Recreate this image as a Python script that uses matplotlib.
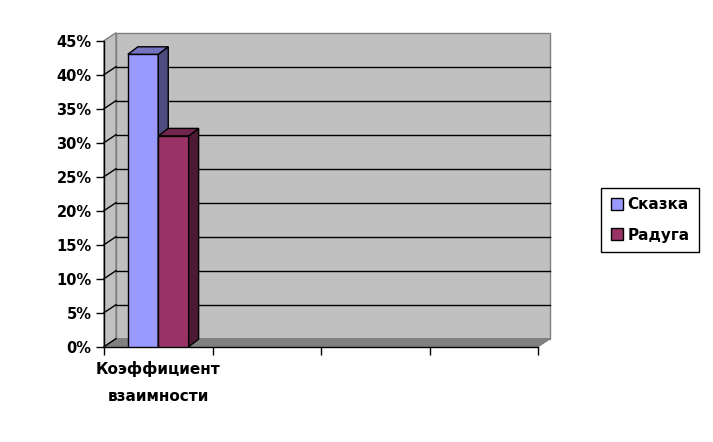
import numpy as np
import matplotlib.pyplot as plt
from matplotlib.patches import Polygon, Patch

# --- data ---
categories = ['Коэффициент\nвзаимности', '', '', '']
series_names = ['Сказка', 'Радуга']
skazka = [0.43, np.nan, np.nan, np.nan]
raduga = [0.31, np.nan, np.nan, np.nan]
y_ticks = [0.0, 0.05, 0.10, 0.15, 0.20, 0.25, 0.30, 0.35, 0.40, 0.45]
y_labels = ['0%', '5%', '10%', '15%', '20%', '25%', '30%', '35%', '40%', '45%']

# front / side / top shades for each series
face_colors = [('#9999FF', '#4D4D80', '#7373BF'),
               ('#993366', '#4D1A33', '#73264D')]

W, H = 713, 442
fig = plt.figure(figsize=(W / 100, H / 100), dpi=100)
ax = fig.add_axes([104 / W, (H - 346.7) / H, 434 / W, 306 / H])
ymax = y_ticks[-1]
ncat = len(categories)
ax.set_xlim(0, ncat)
ax.set_ylim(0, ymax)
ax.set_facecolor('none')

# pixel -> data conversion for the fake 3D depth
ux = 434 / ncat
uy = 306 / ymax
wdx, wdy = 12 / ux, 8 / uy     # wall depth
bdx, bdy = 10 / ux, 7.5 / uy   # bar depth

# --- walls and floor ---
back = Polygon([(wdx, wdy), (ncat + wdx, wdy), (ncat + wdx, ymax + wdy), (wdx, ymax + wdy)],
               fc='#C0C0C0', ec='#808080', lw=1, clip_on=False, zorder=1)
side = Polygon([(0, 0), (wdx, wdy), (wdx, ymax + wdy), (0, ymax)],
               fc='#C0C0C0', ec='#808080', lw=1, clip_on=False, zorder=1)
floor = Polygon([(0, 0), (ncat, 0), (ncat + wdx, wdy), (wdx, wdy)],
                fc='#808080', ec='#808080', lw=1, clip_on=False, zorder=1.2)
for p in (back, side, floor):
    ax.add_patch(p)

for t in y_ticks[1:-1]:
    ax.plot([wdx, ncat + wdx], [t + wdy, t + wdy], color='black', lw=1, clip_on=False, zorder=1.1)
for t in y_ticks[:-1]:
    ax.plot([0, wdx], [t, t + wdy], color='black', lw=1, clip_on=False, zorder=1.3)

# --- bars ---
bw = 0.28
gap = (1 - bw * len(series_names)) / 2
for i, vals in enumerate([skazka, raduga]):
    front, dark, top = face_colors[i]
    z = 4 + i
    for j, v in enumerate(vals):
        if np.isnan(v):
            continue
        x0 = j + gap + i * bw
        ax.bar(x0, v, bw, align='edge', color=front, edgecolor='black', lw=1, zorder=z)
        ax.add_patch(Polygon([(x0 + bw, 0), (x0 + bw + bdx, bdy), (x0 + bw + bdx, v + bdy), (x0 + bw, v)],
                             fc=dark, ec='black', lw=1, zorder=z, clip_on=False))
        ax.add_patch(Polygon([(x0, v), (x0 + bw, v), (x0 + bw + bdx, v + bdy), (x0 + bdx, v + bdy)],
                             fc=top, ec='black', lw=1, zorder=z, clip_on=False))

# --- axes ---
for s in ('top', 'right'):
    ax.spines[s].set_visible(False)
for s in ('left', 'bottom'):
    ax.spines[s].set_color('black')
    ax.spines[s].set_linewidth(1)
    ax.spines[s].set_zorder(3)

ax.set_yticks(y_ticks)
ax.set_yticklabels(y_labels, fontsize=10.5, fontweight='bold')
ax.tick_params(axis='y', length=6, width=1, pad=3, colors='black')

ax.set_xticks(range(ncat + 1))
ax.set_xticklabels([])
ax.set_xticks([j + 0.5 for j in range(ncat)], minor=True)
ax.set_xticklabels(categories, minor=True, fontsize=11, fontweight='bold', linespacing=2.0)
ax.tick_params(axis='x', which='major', length=6, width=1)
ax.tick_params(axis='x', which='minor', length=0, pad=10)

# --- legend ---
handles = [Patch(fc=c[0], ec='black', lw=1) for c in face_colors]
leg = fig.legend(handles, series_names, loc='center', bbox_to_anchor=(650 / W, 1 - 220 / H),
                 frameon=True, fancybox=False, edgecolor='black', framealpha=1,
                 prop={'weight': 'bold', 'size': 11}, handlelength=0.8, handleheight=0.8,
                 handletextpad=0.3, labelspacing=1.0, borderpad=0.6)
leg.get_frame().set_linewidth(1)

fig.savefig('out.png', dpi=100)
